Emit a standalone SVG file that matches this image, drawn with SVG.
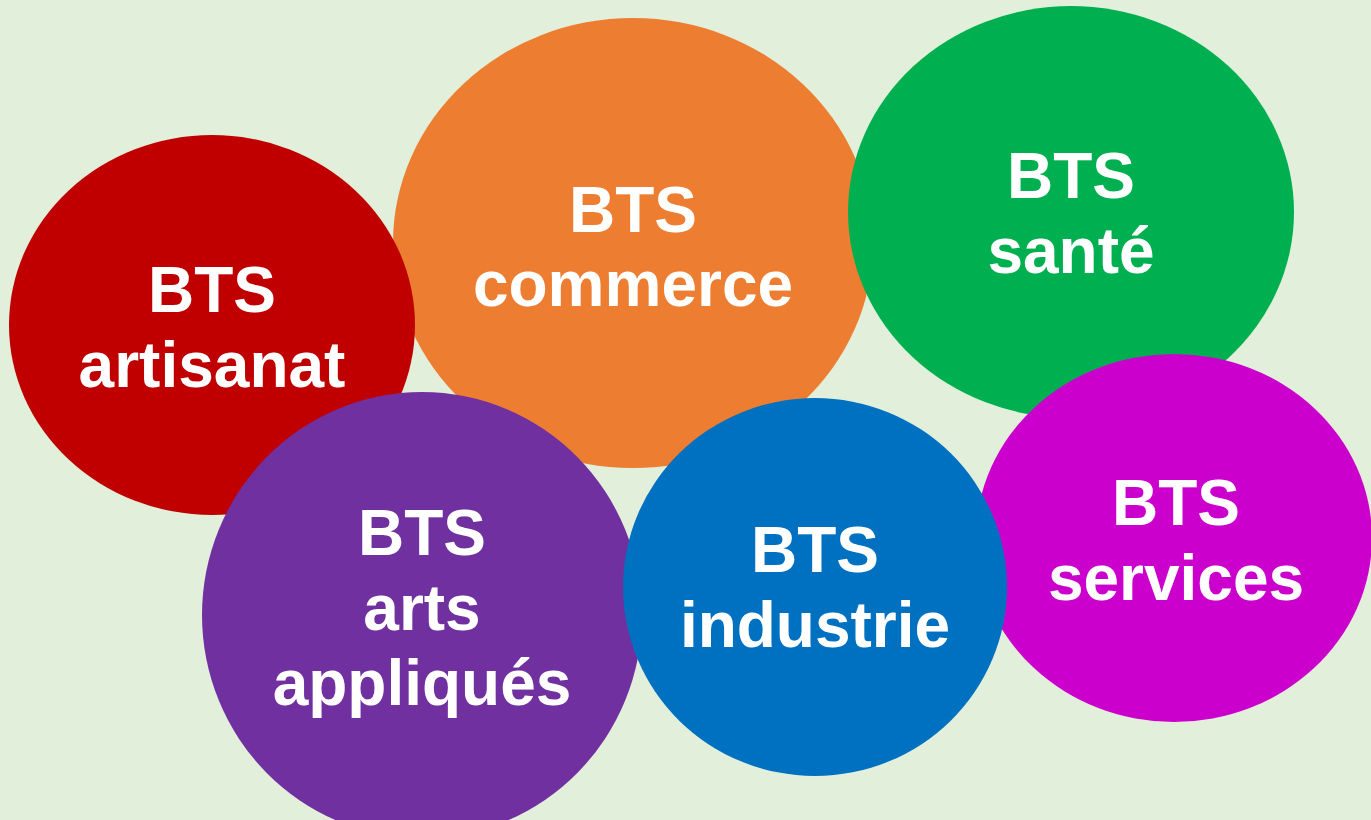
<svg xmlns="http://www.w3.org/2000/svg" width="1371" height="820" viewBox="0 0 1371 820">
<style>
.t{font-family:"Liberation Sans",Arial,sans-serif;font-weight:bold;font-size:64px;fill:#FFFFFF;text-anchor:middle}
</style>
<rect width="1371" height="820" fill="#E2EFDA"/>
<g id="commerce">
<ellipse cx="633" cy="243" rx="240" ry="225" fill="#ED7D31"/>
<text class="t" x="633" y="232">BTS</text>
<text class="t" x="633" y="306">commerce</text>
</g>
<g id="artisanat">
<ellipse cx="212" cy="325" rx="203" ry="190" fill="#C00000"/>
<text class="t" x="212" y="312">BTS</text>
<text class="t" x="212" y="387">artisanat</text>
</g>
<g id="arts-appliques">
<ellipse cx="422" cy="615" rx="220" ry="223" fill="#7030A0"/>
<text class="t" x="422" y="555">BTS</text>
<text class="t" x="422" y="630">arts</text>
<text class="t" x="422" y="705">appliqués</text>
</g>
<g id="sante">
<ellipse cx="1071" cy="212" rx="223" ry="206" fill="#00B050"/>
<text class="t" x="1071" y="198">BTS</text>
<text class="t" x="1071" y="273">santé</text>
</g>
<g id="services">
<ellipse cx="1174" cy="538" rx="198" ry="184" fill="#CC00CC"/>
<text class="t" x="1176" y="525">BTS</text>
<text class="t" x="1176" y="600">services</text>
</g>
<g id="industrie">
<ellipse cx="815" cy="587" rx="192" ry="189" fill="#0070C0"/>
<text class="t" x="815" y="572">BTS</text>
<text class="t" x="815" y="647">industrie</text>
</g>
<g id="connectors"></g>
</svg>
